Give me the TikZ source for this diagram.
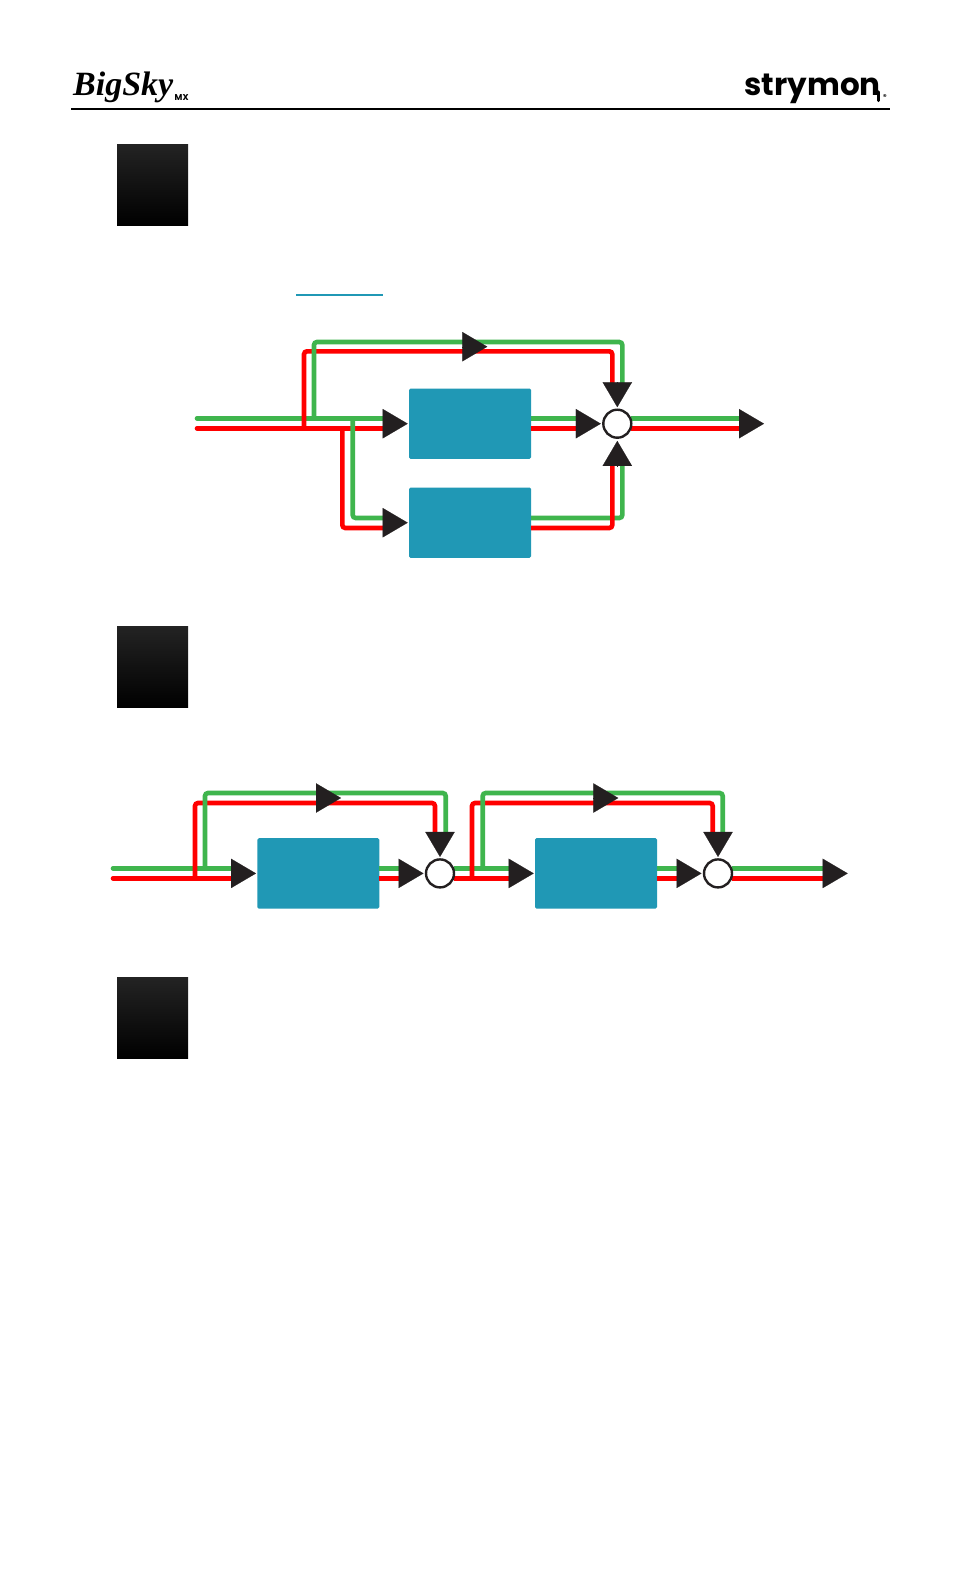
\documentclass[tikz,border=0pt]{standalone}
\usepackage{fontspec}
\usepackage{xcolor}
\usetikzlibrary{arrows.meta}
\newfontfamily\skyfont{Liberation Serif}
\newfontfamily\brandfont{Poppins}
\definecolor{sigred}{HTML}{FF0000}
\definecolor{siggreen}{HTML}{3FB54D}
\definecolor{blockteal}{HTML}{2098B5}
\definecolor{headblack}{HTML}{231F20}
\definecolor{squaretop}{HTML}{232323}
\tikzset{
  redline/.style={line width=4.6pt,sigred,rounded corners=3pt,line cap=round},
  greenline/.style={line width=4.6pt,siggreen,rounded corners=3pt,line cap=round},
  flowhead/.style={-{Triangle[length=25pt,width=29.4pt]},headblack,line width=0.2pt,shorten >=1.3pt},
  fxblock/.style={fill=blockteal,rounded corners=1.5pt,minimum width=122pt,minimum height=70.4pt,inner sep=0pt,outer sep=0pt},
  mixring/.style={circle,draw=headblack,fill=white,line width=2.4pt,minimum size=28pt,inner sep=0pt},
  stepsquare/.style={top color=squaretop,bottom color=black,minimum width=71pt,minimum height=81.5pt,inner sep=0pt,outer sep=0pt}
}

\begin{document}
\begin{tikzpicture}[x=1pt,y=-1pt]
  \useasboundingbox (0,0) rectangle (960,1584);
  \fill[white] (0,0) rectangle (960,1584);

  % header
  \node[anchor=base west,inner sep=0pt,font=\skyfont\bfseries\itshape\fontsize{34}{38}\selectfont] (skylogo) at (73,96) {BigSky};
  \node[anchor=base west,inner sep=0pt,font=\brandfont\bfseries\fontsize{8.5}{9}\selectfont] (mxlogo) at (174.5,101) {MX};
  \node[anchor=base east,inner sep=0pt,font=\brandfont\bfseries\fontsize{31}{34}\selectfont] (brandlogo) at (881,96) {strymon};
  \draw[line width=3.4pt,black,line cap=round] (878.4,92) -- (878.4,100.5);
  \node[anchor=base west,inner sep=0pt,font=\brandfont\bfseries\fontsize{7}{8}\selectfont] (regmark) at (883,100) {®};
  \draw[line width=2pt,black] (71,108.7) -- (890,108.7);

  % squares
  \node[stepsquare] (sqA) at (152.5,185) {};
  \node[stepsquare] (sqB) at (152.5,667) {};
  \node[stepsquare] (sqC) at (152.5,1018) {};
  \draw[blockteal,line width=1.4pt] (296,295) -- (383,295);

  % first diagram
  \node[fxblock] (dlyA) at (470,423.7) {};
  \node[fxblock] (dlyB) at (470,522.7) {};
  \coordinate (inGa) at (197,418.3);
  \coordinate (inRa) at (197,428.3);
  \coordinate (tipTop) at (487.3,346.7);
  \coordinate (tipOut) at (764,423.7);
  \coordinate (mixApos) at (617.3,423.7);
  \draw[greenline] (inGa) -- ([xshift=-20pt]dlyA.west |- inGa);
  \draw[greenline,line cap=butt] (dlyA.east |- inGa) -- ([xshift=-32pt]mixApos |- inGa);
  \draw[greenline,line cap=butt] ([xshift=14pt]mixApos |- inGa) -- ([xshift=-20pt]tipOut |- inGa);
  \draw[greenline,line cap=butt] (dlyB.east |- 0,518) -- (622.3,518) -- (622.3,460);
  \draw[redline] (inRa) -- ([xshift=-20pt]dlyA.west |- inRa);
  \draw[redline,line cap=butt] (dlyA.east |- inRa) -- ([xshift=-32pt]mixApos |- inRa);
  \draw[redline,line cap=butt] ([xshift=14pt]mixApos |- inRa) -- ([xshift=-20pt]tipOut |- inRa);
  \draw[redline] (304,428.3) -- (304,351.3) -- (612.3,351.3) -- (612.3,385);
  \draw[redline,line cap=butt] (dlyB.east |- 0,528) -- (612.3,528) -- (612.3,460);
  \draw[redline] (342.3,428.3) -- (342.3,528) -- ([xshift=-20pt]dlyB.west |- 0,528);
  \draw[greenline] (314,418.3) -- (314,342) -- (622.3,342) -- (622.3,385);
  \draw[greenline] (352.7,418.3) -- (352.7,518) -- ([xshift=-20pt]dlyB.west |- 0,518);
  \node[mixring] (mixA) at (mixApos) {};
  \draw[flowhead] ([xshift=-26pt]dlyA.west) -- (dlyA.west);
  \draw[flowhead] ([xshift=-26pt]dlyB.west) -- (dlyB.west);
  \draw[flowhead] ([xshift=-26pt]mixA.west) -- (mixA.west);
  \draw[flowhead] ([yshift=26pt]mixA.north) -- (mixA.north);
  \draw[flowhead,shorten >=2pt] ([yshift=-27pt]mixA.south) -- (mixA.south);
  \draw[flowhead,shorten >=0pt] ([xshift=-25pt]tipTop) -- (tipTop);
  \draw[flowhead,shorten >=0pt] ([xshift=-25pt]tipOut) -- (tipOut);

  % second diagram
  \node[fxblock] (dlyC) at (318.3,873.4) {};
  \node[fxblock] (dlyD) at (596,873.4) {};
  \coordinate (inGb) at (113,868.3);
  \coordinate (inRb) at (113,878.3);
  \coordinate (tipTopC) at (341,798);
  \coordinate (tipTopD) at (618.3,798);
  \coordinate (tipOutb) at (847.7,873.4);
  \coordinate (mixCpos) at (440,873.4);
  \coordinate (mixDpos) at (718,873.4);
  \draw[greenline] (inGb) -- ([xshift=-20pt]dlyC.west |- inGb);
  \draw[greenline,line cap=butt] (dlyC.east |- inGb) -- ([xshift=-32pt]mixCpos |- inGb);
  \draw[greenline,line cap=butt] ([xshift=14pt]mixCpos |- inGb) -- ([xshift=-20pt]dlyD.west |- inGb);
  \draw[greenline,line cap=butt] (dlyD.east |- inGb) -- ([xshift=-32pt]mixDpos |- inGb);
  \draw[greenline,line cap=butt] ([xshift=14pt]mixDpos |- inGb) -- ([xshift=-20pt]tipOutb |- inGb);
  \draw[redline] (inRb) -- ([xshift=-20pt]dlyC.west |- inRb);
  \draw[redline,line cap=butt] (dlyC.east |- inRb) -- ([xshift=-32pt]mixCpos |- inRb);
  \draw[redline,line cap=butt] ([xshift=14pt]mixCpos |- inRb) -- ([xshift=-20pt]dlyD.west |- inRb);
  \draw[redline,line cap=butt] (dlyD.east |- inRb) -- ([xshift=-32pt]mixDpos |- inRb);
  \draw[redline,line cap=butt] ([xshift=14pt]mixDpos |- inRb) -- ([xshift=-20pt]tipOutb |- inRb);
  \draw[redline] (195,878.3) -- (195,803) -- (435,803) -- (435,836);
  \draw[redline] (472,878.3) -- (472,803) -- (712.7,803) -- (712.7,836);
  \draw[greenline] (205,868.3) -- (205,793) -- (445.7,793) -- (445.7,836);
  \draw[greenline] (482.7,868.3) -- (482.7,793) -- (722.7,793) -- (722.7,836);
  \node[mixring] (mixC) at (mixCpos) {};
  \node[mixring] (mixD) at (mixDpos) {};
  \draw[flowhead] ([xshift=-26pt]dlyC.west) -- (dlyC.west);
  \draw[flowhead] ([xshift=-26pt]dlyD.west) -- (dlyD.west);
  \draw[flowhead] ([xshift=-26pt]mixC.west) -- (mixC.west);
  \draw[flowhead] ([xshift=-26pt]mixD.west) -- (mixD.west);
  \draw[flowhead] ([yshift=26pt]mixC.north) -- (mixC.north);
  \draw[flowhead] ([yshift=26pt]mixD.north) -- (mixD.north);
  \draw[flowhead,shorten >=0pt] ([xshift=-25pt]tipTopC) -- (tipTopC);
  \draw[flowhead,shorten >=0pt] ([xshift=-25pt]tipTopD) -- (tipTopD);
  \draw[flowhead,shorten >=0pt] ([xshift=-25pt]tipOutb) -- (tipOutb);
\end{tikzpicture}
\end{document}
